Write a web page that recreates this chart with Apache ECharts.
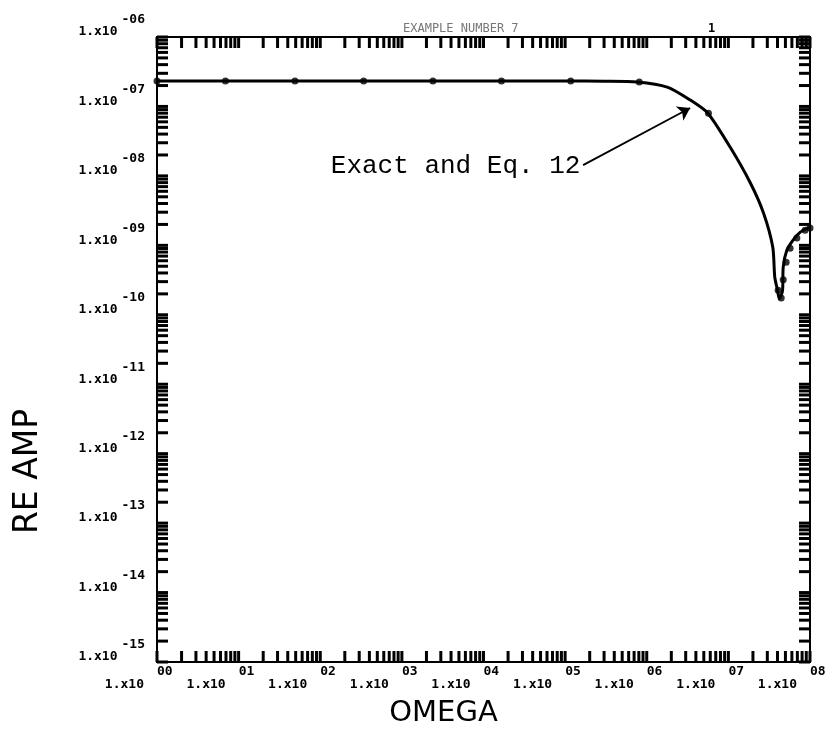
<!DOCTYPE html>
<html>
<head>
<meta charset="utf-8">
<title>RE AMP vs OMEGA</title>
<script src="https://cdn.jsdelivr.net/npm/echarts@6/dist/echarts.min.js"></script>
<style>
  html, body { margin: 0; padding: 0; background: #fff; }
  #chart { width: 833px; height: 729px; }
</style>
</head>
<body>
<div id="chart"></div>
<script>
// exact solution
const exactOmega = [1, 1e2, 1e4, 1e5, 3e5, 7.6e5, 1.78e6, 3.4e6, 5.6e6, 1.05e7, 1.86e7, 2.7e7, 3.5e7, 3.7e7, 4.0e7, 4.2e7, 4.6e7, 4.7e7, 5.2e7, 6.2e7, 7.6e7, 9.5e7, 1e8];
const exactAmp = [2.32e-7, 2.32e-7, 2.32e-7, 2.32e-7, 2.31e-7, 2.25e-7, 1.9e-7, 1.24e-7, 8.0e-8, 2.6e-8, 7.9e-9, 2.9e-9, 9.4e-10, 3.5e-10, 2.25e-10, 1.7e-10, 2.2e-10, 4.9e-10, 8.5e-10, 1.19e-9, 1.55e-9, 1.78e-9, 1.82e-9];

// Eq. 12 points (dots)
const eq12Omega = [1, 6.9, 49, 340, 2400, 16600, 1.17e5, 8.1e5, 5.7e6, 4.07e7, 4.44e7, 4.7e7, 5.1e7, 5.7e7, 6.9e7, 8.7e7, 1e8];
const eq12Amp = [2.32e-7, 2.32e-7, 2.32e-7, 2.32e-7, 2.32e-7, 2.32e-7, 2.32e-7, 2.25e-7, 8.0e-8, 2.26e-10, 1.74e-10, 3.2e-10, 5.7e-10, 9.1e-10, 1.27e-9, 1.65e-9, 1.78e-9];

// axis ranges and log tick layout
const xMin = 1, xMax = 1e8;
const yMin = 1e-15, yMax = 1e-6;
const xDecades = [0, 1, 2, 3, 4, 5, 6, 7];
const yDecades = [-15, -14, -13, -12, -11, -10, -9, -8, -7];
const minorSteps = [1, 2, 3, 4, 5, 6, 7, 8, 9];

// annotation arrow ends (data space)
const noteStart = [1.66e5, 1.43e-8];
const noteEnd = [3.4e6, 9.5e-8];

const xTicks = [];
xDecades.forEach(d => minorSteps.forEach(m => xTicks.push([m * Math.pow(10, d), yMin])));
xTicks.push([xMax, yMin]);
const yTicks = [];
yDecades.forEach(d => minorSteps.forEach(m => yTicks.push([xMin, m * Math.pow(10, d)])));
yTicks.push([xMin, yMax]);

const TICK = 11;
const mono = 'DejaVu Sans Mono';
const labelFont = { fontFamily: mono, fontWeight: 'bold', fontSize: 13, color: '#000' };

function pad2(n) {
  const s = String(Math.abs(n));
  return s.length < 2 ? '0' + s : s;
}

function xTickItem(params, api) {
  const x = api.coord([api.value(0), yMin])[0];
  const yb = api.coord([xMin, yMin])[1];
  const yt = api.coord([xMin, yMax])[1];
  const st = { stroke: '#000', lineWidth: 3 };
  return {
    type: 'group',
    children: [
      { type: 'line', shape: { x1: x, y1: yb, x2: x, y2: yb - TICK }, style: st },
      { type: 'line', shape: { x1: x, y1: yt, x2: x, y2: yt + TICK }, style: st }
    ]
  };
}

function yTickItem(params, api) {
  const y = api.coord([xMin, api.value(1)])[1];
  const xl = api.coord([xMin, yMin])[0];
  const xr = api.coord([xMax, yMin])[0];
  const st = { stroke: '#000', lineWidth: 3 };
  return {
    type: 'group',
    children: [
      { type: 'line', shape: { x1: xl, y1: y, x2: xl + TICK, y2: y }, style: st },
      { type: 'line', shape: { x1: xr, y1: y, x2: xr - TICK, y2: y }, style: st }
    ]
  };
}

const chart = echarts.init(document.getElementById('chart'));

const option = {
  backgroundColor: '#fff',
  animation: false,
  title: [
    {
      text: 'EXAMPLE NUMBER 7',
      left: 398, top: 18,
      textStyle: { fontFamily: mono, fontSize: 12, fontWeight: 'normal', color: '#777' }
    },
    {
      text: '1',
      left: 703, top: 18,
      textStyle: { fontFamily: mono, fontSize: 12, fontWeight: 'bold', color: '#000' }
    }
  ],
  grid: {
    left: 157, right: 23, top: 37, bottom: 67,
    show: true, borderColor: '#000', borderWidth: 2,
    outerBoundsMode: 'none'
  },
  xAxis: [
    {
      // exponents, starting at the tick
      type: 'log',
      logBase: 10,
      min: xMin, max: xMax,
      splitNumber: 8,
      name: 'OMEGA',
      nameLocation: 'middle',
      nameGap: 37,
      nameTextStyle: { fontFamily: 'DejaVu Sans', fontSize: 29, color: '#000', padding: [0, 80, 0, 0] },
      axisLine: { show: true, lineStyle: { color: '#000', width: 2 } },
      axisTick: { show: false },
      splitLine: { show: false },
      axisLabel: Object.assign({
        interval: 0,
        showMinLabel: true,
        showMaxLabel: true,
        margin: 3,
        align: 'left',
        formatter: v => pad2(Math.round(Math.log10(v)))
      }, labelFont)
    },
    {
      // "1.x10" mantissa, just left of the tick
      type: 'log',
      logBase: 10,
      min: xMin, max: xMax,
      splitNumber: 8,
      position: 'bottom',
      axisLine: { show: false },
      axisTick: { show: false },
      splitLine: { show: false },
      axisLabel: Object.assign({
        interval: 0,
        showMinLabel: true,
        showMaxLabel: true,
        margin: 16,
        align: 'right',
        padding: [0, 13, 0, 0],
        formatter: () => '1.x10'
      }, labelFont)
    }
  ],
  yAxis: {
    type: 'log',
    logBase: 10,
    min: yMin, max: yMax,
    splitNumber: 9,
    name: 'RE AMP',
    nameLocation: 'middle',
    nameRotate: 90,
    nameGap: 112,
    nameTextStyle: { fontFamily: 'DejaVu Sans', fontSize: 33, color: '#000', padding: [0, 244, 0, 0] },
    axisLine: { show: true, lineStyle: { color: '#000', width: 2 } },
    axisTick: { show: false },
    splitLine: { show: false },
    axisLabel: {
      interval: 0,
      showMinLabel: true,
      showMaxLabel: true,
      margin: 12,
      verticalAlign: 'bottom',
      padding: [0, 0, 4, 0],
      formatter: v => '{b|1.x10}{e|-' + pad2(Math.round(Math.log10(v))) + '}',
      rich: {
        b: Object.assign({ lineHeight: 14, padding: [12, 4, 0, 0] }, labelFont),
        e: Object.assign({ lineHeight: 14, padding: [0, 0, 12, 0] }, labelFont)
      }
    }
  },
  series: [
    {
      name: 'x ticks',
      type: 'custom',
      silent: true,
      renderItem: xTickItem,
      encode: { x: 0, y: 1 },
      data: xTicks,
      z: 5
    },
    {
      name: 'y ticks',
      type: 'custom',
      silent: true,
      renderItem: yTickItem,
      encode: { x: 0, y: 1 },
      data: yTicks,
      z: 5
    },
    {
      name: 'Exact',
      type: 'line',
      smooth: 0.25,
      showSymbol: false,
      lineStyle: { color: '#000', width: 3 },
      data: exactOmega.map((w, i) => [w, exactAmp[i]]),
      z: 3
    },
    {
      name: 'Eq. 12',
      type: 'scatter',
      symbol: 'circle',
      symbolSize: 7,
      itemStyle: { color: '#000' },
      data: eq12Omega.map((w, i) => [w, eq12Amp[i]]),
      z: 4,
      markLine: {
        silent: true,
        symbol: ['none', 'arrow'],
        symbolSize: 12,
        lineStyle: { color: '#000', width: 1.8, type: 'solid' },
        label: {
          show: true,
          position: 'start',
          distance: 3,
          formatter: 'Exact and Eq. 12',
          fontFamily: 'Liberation Mono',
          fontSize: 26,
          color: '#000'
        },
        data: [[{ coord: noteStart }, { coord: noteEnd }]]
      }
    }
  ]
};

chart.setOption(option);
window.addEventListener('resize', chart.resize);
</script>
</body>
</html>
